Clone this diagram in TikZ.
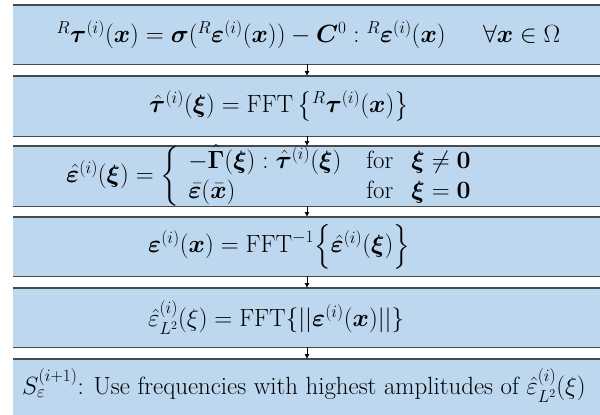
\documentclass[tikz,border=0pt]{standalone}
\usepackage{amsmath,amssymb,bm}
\usetikzlibrary{arrows.meta}
\DeclareMathSizes{24.88}{24.88}{17.28}{12}
\definecolor{boxfill}{RGB}{189,215,238}
\definecolor{boxline}{RGB}{70,75,80}
\begin{document}
\begin{tikzpicture}[x=1pt,y=-1pt,
  stage/.style={rectangle,draw=none,fill=boxfill,minimum width=600pt,inner sep=0pt,anchor=north west},
  edge/.style={draw=boxline,line width=1.3pt},
  eq/.style={inner sep=0pt,anchor=west,font=\Huge},
  flow/.style={draw=black,line width=0.8pt,-{Latex[length=5pt,width=5pt]}}]
\useasboundingbox (0,0) rectangle (600,415);
% boxes
\node[stage,minimum height=59pt] (b1) at (13,5) {};
\node[stage,minimum height=60pt] (b2) at (13,76) {};
\node[stage,minimum height=60pt] (b3) at (13,146) {};
\node[stage,minimum height=59pt] (b4) at (13,217) {};
\node[stage,minimum height=59pt] (b5) at (13,288) {};
\node[stage,minimum height=70pt] (b6) at (13,359) {};
\foreach \b in {b1,b2,b3,b4,b5}{
  \draw[edge] (\b.north west) -- (\b.north east);
  \draw[edge] (\b.south west) -- (\b.south east);
}
\draw[edge] (b6.north west) -- (b6.north east);
% arrows
\foreach \a/\b in {b1/b2,b2/b3,b3/b4,b4/b5,b5/b6}{
  \draw[flow] (\a.south west -| 307,0) -- (\b.north west -| 307,0);
}
% texts
\node[eq,anchor=center] (t1) at (308.5,34.5) {$^{R}\bm{\tau}^{(i)}(\bm{x}) = \bm{\sigma}(^{R}\bm{\varepsilon}^{(i)}(\bm{x})) - \bm{C}^{0} : {}^{R}\bm{\varepsilon}^{(i)}(\bm{x}) \hskip 1.5em \forall \bm{x} \in \Omega$};
\node[eq] (t2) at (149,106) {$\hat{\bm{\tau}}^{(i)}(\bm{\xi}) = \mathrm{FFT}\left\{{}^{R}\bm{\tau}^{(i)}(\bm{x})\right\}$};
\node[eq,anchor=east] (t3) at (472,176) {$\hat{\bm{\varepsilon}}^{(i)}(\bm{\xi}) = \left\{\begin{array}{@{\hspace{9pt}}l@{\hspace{25pt}}l@{\hspace{18pt}}l@{}} -\hat{\bm{\Gamma}}(\bm{\xi}) : \hat{\bm{\tau}}^{(i)}(\bm{\xi}) & \text{for} & \bm{\xi} \neq \bm{0}\\ \bar{\bm{\varepsilon}}(\bar{\bm{x}}) & \text{for} & \bm{\xi} = \bm{0}\end{array}\right.$};
\node[eq] (t4) at (148,246.5) {$\bm{\varepsilon}^{(i)}(\bm{x}) = \mathrm{FFT}^{-1}\Big\{\hat{\bm{\varepsilon}}^{(i)}(\bm{\xi})\Big\}$};
\node[eq] (t5) at (148,317.5) {$\hat{\varepsilon}^{(i)}_{L^2}(\xi) = \mathrm{FFT}\{||\bm{\varepsilon}^{(i)}(\bm{x})||\}$};
\node[eq] (t6) at (22,386) {$S^{(i+1)}_{\varepsilon}$: Use frequencies with highest amplitudes of $\hat{\varepsilon}^{(i)}_{L^2}(\xi)$};
\end{tikzpicture}
\end{document}
